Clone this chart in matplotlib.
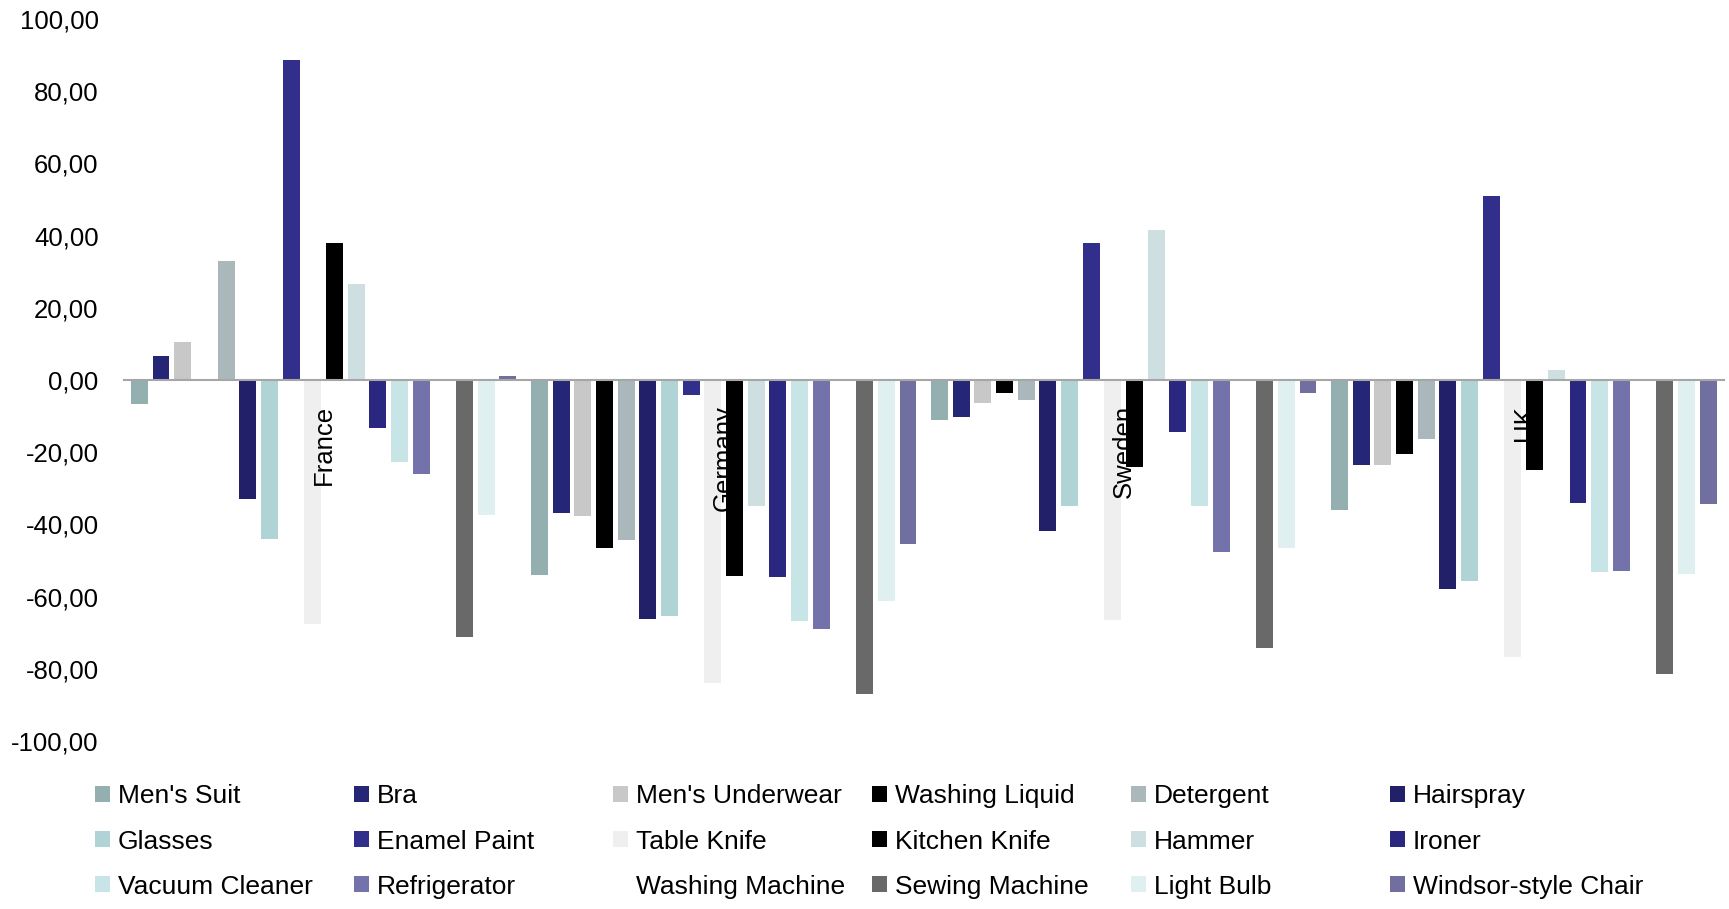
import matplotlib.pyplot as plt
import numpy as np
from matplotlib.patches import Patch
from matplotlib.ticker import FuncFormatter

plt.rcParams['font.family'] = ['Liberation Sans', 'DejaVu Sans']

countries = ["France", "Germany", "Sweden", "UK"]
products = ["Men's Suit", "Bra", "Men's Underwear", "Washing Liquid", "Detergent",
            "Hairspray", "Glasses", "Enamel Paint", "Table Knife", "Kitchen Knife",
            "Hammer", "Ironer", "Vacuum Cleaner", "Refrigerator", "Washing Machine",
            "Sewing Machine", "Light Bulb", "Windsor-style Chair"]

# one value per product, in the order above (Washing Machine is not visible)
france = [-6.6, 6.8, 10.5, 0, 33.1, -32.9, -43.9, 88.7, -67.6, 38.0, 26.5,
          -13.2, -22.7, -26.0, None, -71.1, -37.5, 1.1]
germany = [-54.0, -36.8, -37.6, -46.4, -44.2, -66.2, -65.5, -4.2, -83.9, -54.4,
           -34.8, -54.5, -66.8, -69.0, None, -87.0, -61.2, -45.4]
sweden = [-11.0, -10.2, -6.3, -3.6, -5.6, -41.7, -34.8, 37.9, -66.4, -24.1,
          41.5, -14.3, -34.8, -47.5, None, -74.3, -46.5, -3.6]
uk = [-36.0, -23.6, -23.6, -20.5, -16.3, -57.8, -55.6, 51.1, -76.7, -25.0,
      2.7, -34.1, -53.1, -52.9, None, -81.4, -53.6, -34.2]

colors = ["#93AFB0", "#262676", "#C8C8C8", "#000000", "#AAB8BC", "#222068",
          "#B0D3D5", "#312E8C", "#EFEFEF", "#000000", "#CDDFE1", "#2A2780",
          "#C7E5E6", "#7472AA", "#FFFFFF", "#696969", "#E0F0F0", "#706F9F"]

values = np.array([france, germany, sweden, uk], dtype=float)

fig = plt.figure(figsize=(17.29, 9.09), dpi=100)
ax = fig.add_axes([0.0715, 0.1848, 0.9255, 0.7942])

n = len(products)
step = 0.0542
width = step * 0.78
x = np.arange(len(countries))
handles = []
for i, name in enumerate(products):
    ax.bar(x + (i - (n - 1) / 2) * step, values[:, i], width=width,
           color=colors[i], zorder=1)
    handles.append(Patch(facecolor=colors[i], label=name))

ax.set_xlim(-0.5, 3.5)
ax.set_ylim(-100, 100)
ax.set_yticks(np.arange(-100, 101, 20))
ax.yaxis.set_major_formatter(FuncFormatter(lambda v, p: f"{v:.2f}".replace('.', ',')))
ax.set_xticks(x)
ax.set_xticklabels(countries)

for s in ['top', 'right', 'left']:
    ax.spines[s].set_visible(False)
ax.spines['bottom'].set_position(('data', 0))
ax.spines['bottom'].set_color('#A6A6A6')
ax.spines['bottom'].set_linewidth(1.5)
ax.tick_params(axis='both', length=0, labelsize=18.5)
ax.tick_params(axis='y', pad=18)
ax.tick_params(axis='x', pad=18, labelrotation=90)

# legend: 6 equal-width columns, filled row by row
ncol = 6
for c in range(ncol):
    col_handles = [handles[r * ncol + c] for r in range(3)]
    fig.legend(handles=col_handles, loc='upper left',
               bbox_to_anchor=(0.055 + c * 0.1498, 0.137),
               frameon=False, fontsize=19, handlelength=0.55,
               handleheight=0.55, handletextpad=0.3, labelspacing=0.8,
               borderaxespad=0, borderpad=0)

fig.savefig("out.png", dpi=100)
